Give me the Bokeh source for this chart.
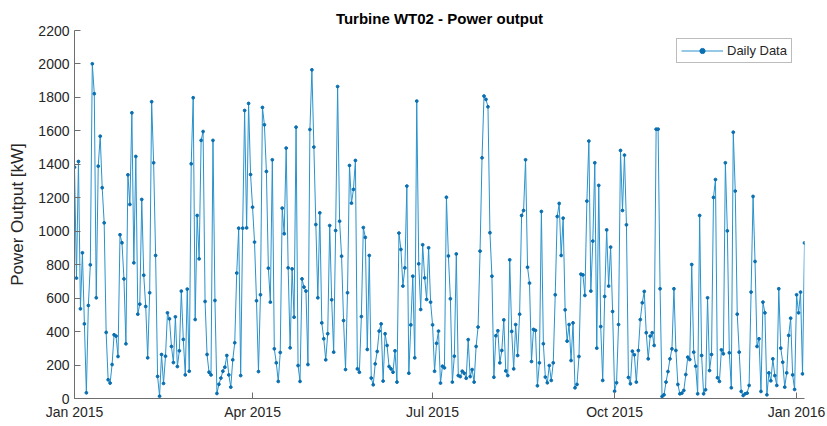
import pandas as pd
from datetime import datetime
from bokeh.plotting import figure
from bokeh.models import (Range1d, FixedTicker, DatetimeTickFormatter, ColumnDataSource,
                          Legend, LegendItem)
from bokeh.embed import file_html
from bokeh.resources import INLINE

start_date = "2015-01-01"

power_jan_feb = [1383, 720, 1417, 536, 871, 446, 34, 556, 799, 2001, 1822, 602, 1389, 1568, 1260, 1050, 395, 112, 92, 203, 381, 373,
                 251, 979, 931, 715, 327, 1337, 1160, 1708, 811, 1447, 504, 564, 1190, 737, 550, 243, 632, 1774, 1409, 855, 132, 14, 263, 90, 253, 512, 476, 311, 215, 488, 191, 285, 642]
power_mar_apr = [353, 141, 654, 163, 1403, 1798, 472, 1094, 835, 1543, 1596, 580, 263, 157, 141, 1543, 586, 30, 85, 122, 163, 187, 257, 141, 68, 231, 333, 750, 1018, 137, 1018, 1722,
                 1020, 1764, 1339, 1144, 935, 584, 161, 620, 1740, 1636, 1357, 779, 576, 1427, 297, 213, 102, 275, 1138, 985, 1497, 781, 303, 775, 486, 1622, 197, 102, 715, 666, 642, 203, 1608]
power_may_jun = [1965, 1503, 1040, 602, 1110, 452, 357, 231, 387, 1034, 590, 277, 1004, 1865, 1060, 851, 466, 173, 632, 1393, 1168, 1250, 1423, 177, 157, 490, 1022, 963, 293, 855, 122, 82,
                 207, 281, 403, 446, 104, 387, 317, 191, 177, 157, 285, 98, 989, 891, 672, 781, 1270, 151, 440, 731, 243, 1778, 805, 532, 919, 721, 592, 901, 576, 440, 163]
power_jul_aug = [330, 403, 92, 193, 183, 1203, 852, 596, 98, 253, 864, 137, 131, 163, 151, 121, 352, 131, 173, 98, 311, 427, 881, 1439, 1808, 1788, 1744, 991, 731, 127, 375, 405, 213, 287,
                 470, 165, 137, 829, 401, 177, 442, 257, 504, 1094, 1124, 1427, 785, 690, 221, 413, 407, 76, 213, 1118, 327, 128, 94, 197, 108, 213, 620, 1088, 1166, 855, 1078, 530]
power_sep_oct = [343, 442, 227, 452, 64, 84, 251, 743, 739, 616, 1180, 1539, 642, 941, 1409, 301, 1274, 430, 108, 610, 1008, 672, 905, 520, 44, 94, 442, 1483, 1124, 1455, 1038, 126, 88,
                 283, 261, 98, 287, 472, 572, 640, 393, 237, 373, 393, 317, 1610, 1610, 656, 12, 22, 98, 161, 237, 297, 656, 287, 84, 28, 32, 48, 143, 247, 233, 801, 277]
power_nov_jan = [193, 28, 1094, 257, 28, 52, 602, 167, 263, 1202, 1309, 124, 102, 291, 267, 1409, 1002, 273, 64, 1592, 1240, 504, 277, 42, 18, 28, 32, 78, 636, 1208, 819, 311, 357,
                 42, 576, 512, 22, 153, 106, 237, 137, 78, 656, 301, 217, 68, 153, 377, 480, 141, 54, 620, 512, 636, 147, 930]

power_kw = power_jan_feb + power_mar_apr + power_may_jun + power_jul_aug + power_sep_oct + power_nov_jan

y_ticks = list(range(0, 2201, 200))
x_tick_dates = ["2015-01-01", "2015-04-01", "2015-07-01", "2015-10-01", "2016-01-01"]
title_text = "Turbine WT02 - Power output"
y_label = "Power Output [kW]"
legend_label = "Daily Data"

FONT = "Liberation Sans"
TEXT = "#262626"
AXIS = "#6e6e6e"
LINE_COLOR = "#2a92cb"
MARK_COLOR = "#0a6fb0"

dates = pd.date_range(start_date, periods=len(power_kw), freq="D")
src = ColumnDataSource(dict(date=dates, power=power_kw))

p = figure(width=827, height=426, x_axis_type="datetime", output_backend="svg",
           toolbar_location=None,
           x_range=Range1d(dates[0].to_pydatetime(), dates[-1].to_pydatetime()),
           y_range=Range1d(0, 2200),
           min_border_left=74, min_border_right=23, min_border_top=30, min_border_bottom=28)

p.background_fill_color = "white"
p.border_fill_color = "white"
p.outline_line_color = None
p.xgrid.visible = False
p.ygrid.visible = False

p.title.text = title_text
p.title.text_font = FONT
p.title.text_font_size = "15px"
p.title.text_font_style = "bold"
p.title.text_color = "black"
p.title.align = "center"
p.title.standoff = 7

tick_ms = [pd.Timestamp(d).timestamp() * 1000 for d in x_tick_dates]
p.xaxis.ticker = FixedTicker(ticks=tick_ms)
fmt = "%b %Y"
p.xaxis.formatter = DatetimeTickFormatter(microseconds=fmt, milliseconds=fmt, seconds=fmt,
                                          minsec=fmt, minutes=fmt, hourmin=fmt, hours=fmt,
                                          days=fmt, months=fmt, years=fmt)
p.yaxis.ticker = FixedTicker(ticks=y_ticks)
p.yaxis.axis_label = y_label

for ax in (p.xaxis, p.yaxis):
    ax.axis_line_color = AXIS
    ax.axis_line_width = 1
    ax.major_tick_line_color = AXIS
    ax.major_tick_in = 6
    ax.major_tick_out = 0
    ax.minor_tick_line_color = None
    ax.major_label_text_font = FONT
    ax.major_label_text_font_size = "14px"
    ax.major_label_text_color = TEXT
    ax.axis_label_text_font = FONT
    ax.axis_label_text_font_size = "17px"
    ax.axis_label_text_font_style = "normal"
    ax.axis_label_text_color = TEXT

p.xaxis.major_label_standoff = 5
p.yaxis.major_label_standoff = 5
p.yaxis.axis_label_standoff = 8

r_line = p.line("date", "power", source=src, line_color=LINE_COLOR, line_width=1)
r_pts = p.scatter("date", "power", source=src, size=2.8, fill_color=MARK_COLOR,
                  line_color=MARK_COLOR)

legend = Legend(items=[LegendItem(label=legend_label, renderers=[r_line, r_pts])],
                location=(602, 335))
legend.label_text_font = FONT
legend.label_text_font_size = "13px"
legend.label_text_color = TEXT
legend.glyph_width = 42
legend.glyph_height = 13
legend.label_height = 13
legend.label_standoff = 4
legend.padding = 4
legend.spacing = 0
legend.margin = 0
legend.border_line_color = "#7a7a7a"
legend.border_line_width = 1
legend.background_fill_color = "white"
legend.background_fill_alpha = 1
p.add_layout(legend)

open("out.html", "w").write(file_html(p, INLINE))
